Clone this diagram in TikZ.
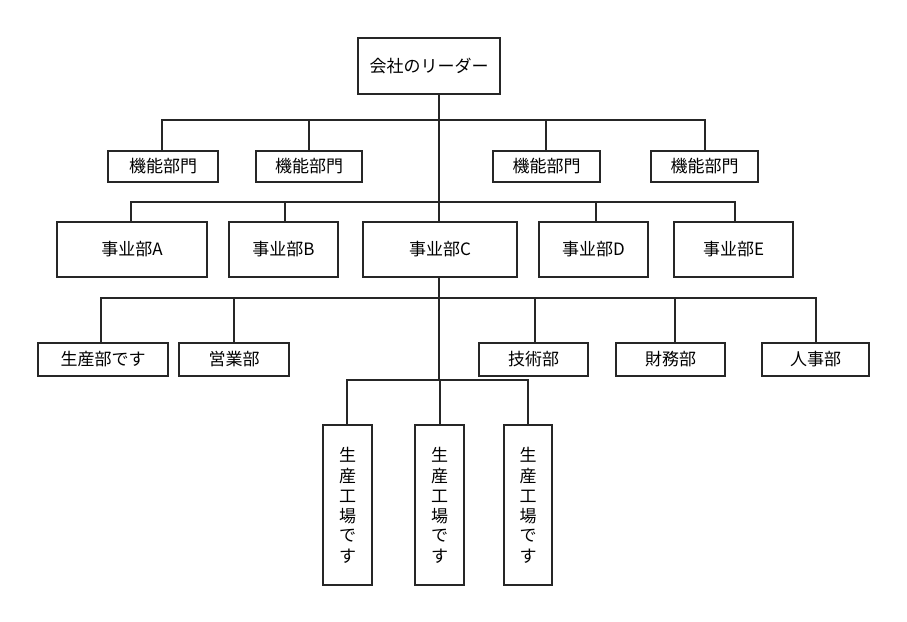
\documentclass[tikz,border=0pt]{standalone}
\usepackage{fontspec}
\setmainfont{Noto Sans CJK JP}
\pgfdeclarelayer{bg}
\pgfsetlayers{bg,main}
\begin{document}
\begin{tikzpicture}[x=1pt,y=-1pt,
  bx/.style={draw=black!85,line width=2.8pt,fill=white,inner sep=0pt,font=\fontsize{17}{20}\selectfont},
  ln/.style={draw=black!85,line width=2.8pt}]
\useasboundingbox (0,0) rectangle (907,621);
\newcommand\bxat[6]{\node[bx,minimum width=#3-#1,minimum height=#4-#2] (#5) at ({(#1+#3)/2},{(#2+#4)/2}) {#6};}
\newcommand\vtext{\shortstack{生\\[3pt]産\\[3pt]工\\[3pt]場\\[3pt]で\\[3pt]す}}
\bxat{358}{38}{500}{94}{L}{会社のリーダー}
\bxat{108}{151}{218}{182}{f1}{機能部門}
\bxat{256}{151}{362}{182}{f2}{機能部門}
\bxat{493}{151}{600}{182}{f3}{機能部門}
\bxat{651}{151}{758}{182}{f4}{機能部門}
\bxat{57}{222}{207}{277}{A}{事业部A}
\bxat{229}{222}{338}{277}{B}{事业部B}
\bxat{363}{222}{517}{277}{C}{事业部C}
\bxat{539}{222}{648}{277}{D}{事业部D}
\bxat{674}{222}{793}{277}{E}{事业部E}
\bxat{38}{343}{168}{376}{p1}{生産部です}
\bxat{179}{343}{289}{376}{p2}{営業部}
\bxat{479}{343}{588}{376}{p3}{技術部}
\bxat{616}{343}{725}{376}{p4}{財務部}
\bxat{762}{343}{869}{376}{p5}{人事部}
\bxat{323}{425}{372}{585}{v1}{\vtext}
\bxat{415}{425}{464}{585}{v2}{\vtext}
\bxat{504}{425}{552}{585}{v3}{\vtext}
\coordinate (t1) at (439,120);
\coordinate (t2) at (439,202);
\coordinate (t3) at (439,298);
\coordinate (t4) at (439,380);
\begin{pgfonlayer}{bg}
\draw[ln] (L.south -| t1) -- (t4);
\draw[ln] (f1.north -| 162,0) |- (t1) -| (f4.north -| 705,0);
\draw[ln] (f2.north -| 309,0) -- (309,120);
\draw[ln] (f3.north -| 546,0) -- (546,120);
\draw[ln] (A.north -| 131,0) |- (t2) -| (E.north -| 735,0);
\draw[ln] (B.north -| 285,0) -- (285,202);
\draw[ln] (D.north -| 596,0) -- (596,202);
\draw[ln] (p1.north -| 101,0) |- (t3) -| (p5.north -| 816,0);
\draw[ln] (p2.north -| 234,0) -- (234,298);
\draw[ln] (p3.north -| 535,0) -- (535,298);
\draw[ln] (p4.north -| 675,0) -- (675,298);
\draw[ln] (v1.north -| 347,0) |- (t4) -| (v3.north -| 528,0);
\draw[ln] (v2.north -| 440,0) -- (440,380);
\end{pgfonlayer}
\end{tikzpicture}
\end{document}
